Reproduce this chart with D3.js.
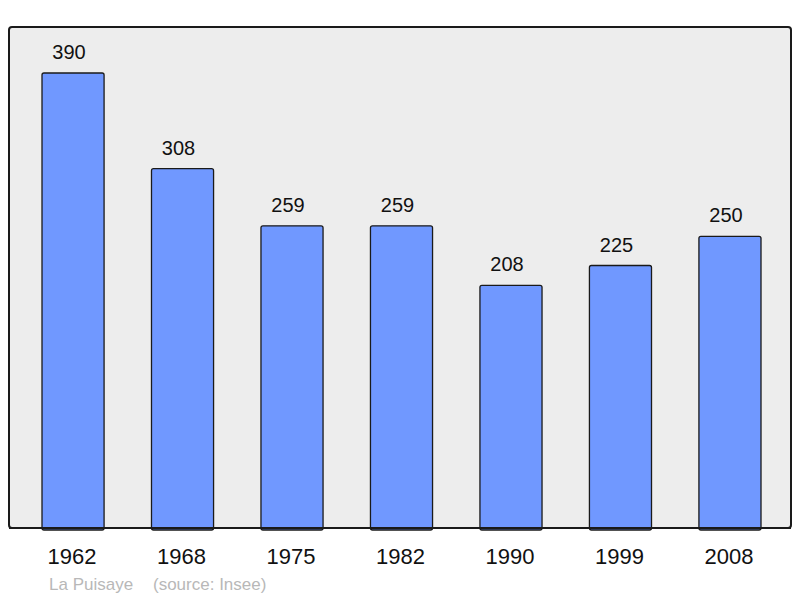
<!DOCTYPE html>
<html>
<head>
<meta charset="utf-8">
<script src="https://cdn.jsdelivr.net/npm/d3@7"></script>
<style>
  body { margin: 0; background: #fff; }
  text { font-family: "Liberation Sans", Arial, sans-serif; }
</style>
</head>
<body>
<svg id="chart" width="800" height="598"></svg>
<script>
const years = ["1962", "1968", "1975", "1982", "1990", "1999", "2008"];
const population = [390, 308, 259, 259, 208, 225, 250];
const place = "La Puisaye";
const source = "(source: Insee)";

const svg = d3.select("#chart");

// panel box
const panel = { x0: 9, x1: 791, y0: 27, y1: 528 };

svg.append("rect")
    .attr("x", panel.x0)
    .attr("y", panel.y0)
    .attr("width", panel.x1 - panel.x0)
    .attr("height", panel.y1 - panel.y0)
    .attr("rx", 3)
    .attr("fill", "#ededed")
    .attr("stroke", "#1a1a1a")
    .attr("stroke-width", 2);

const x = d3.scaleBand()
    .domain(years)
    .range([42, 761])
    .paddingInner(0.433)
    .paddingOuter(0);

const y = d3.scaleLinear()
    .domain([0, 390 * (panel.y1 - panel.y0) / 455])
    .range([panel.y1, panel.y0]);

const g = svg.append("g");

g.selectAll(".bar")
    .data(population)
    .join("rect")
    .attr("class", "bar")
    .attr("x", (d, i) => x(years[i]))
    .attr("y", d => y(d))
    .attr("width", x.bandwidth())
    .attr("height", d => y(0) - y(d) + 2)
    .attr("rx", 2)
    .attr("fill", "#7098ff")
    .attr("stroke", "#1a1a1a")
    .attr("stroke-width", 1.3);

// redraw panel bottom line over bars
svg.append("line")
    .attr("x1", panel.x0)
    .attr("x2", panel.x1)
    .attr("y1", panel.y1)
    .attr("y2", panel.y1)
    .attr("stroke", "#1a1a1a")
    .attr("stroke-width", 2);

g.selectAll(".val")
    .data(population)
    .join("text")
    .attr("class", "val")
    .attr("x", (d, i) => x(years[i]) + x.bandwidth() / 2 - 4)
    .attr("y", d => y(d) - 14)
    .attr("text-anchor", "middle")
    .attr("font-size", 20)
    .attr("fill", "#111")
    .text(d => d);

// year labels
const xAxis = svg.append("g")
    .attr("transform", `translate(0,${panel.y1})`)
    .call(d3.axisBottom(x).tickSize(0).tickPadding(20));
xAxis.select(".domain").remove();
xAxis.selectAll("text")
    .attr("font-size", 22)
    .attr("font-family", "'Liberation Sans', Arial, sans-serif")
    .attr("fill", "#111")
    .attr("dx", "-1");

svg.append("text")
    .attr("x", 49)
    .attr("y", 590)
    .attr("font-size", 17)
    .attr("fill", "#b8b8b8")
    .text(place);

svg.append("text")
    .attr("x", 153)
    .attr("y", 590)
    .attr("font-size", 17)
    .attr("fill", "#b8b8b8")
    .text(source);
</script>
</body>
</html>
